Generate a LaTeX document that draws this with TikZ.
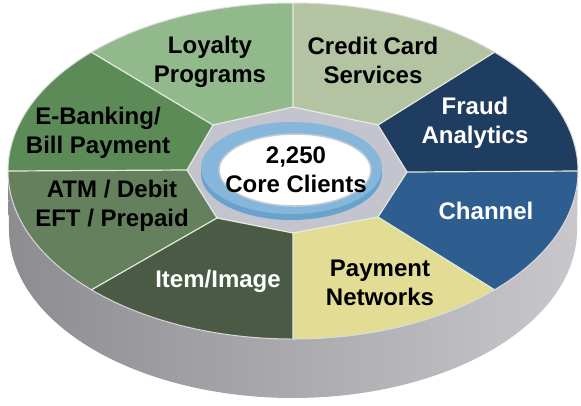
\documentclass[tikz,border=0pt]{standalone}
\usepackage{fontspec}
\setmainfont{Liberation Sans}
\definecolor{cCredit}{HTML}{B4C3A1}
\definecolor{cLoyal}{HTML}{92B98C}
\definecolor{cEbank}{HTML}{5D8B58}
\definecolor{cAtm}{HTML}{64805C}
\definecolor{cItem}{HTML}{4A5A45}
\definecolor{cPay}{HTML}{E2DC94}
\definecolor{cChan}{HTML}{2E5D8F}
\definecolor{cFraud}{HTML}{1F3D61}
\definecolor{sideL}{HTML}{8C8C91}
\definecolor{sideM}{HTML}{A9A9AE}
\definecolor{sideR}{HTML}{C8C8CC}
\definecolor{hubC}{HTML}{C4C4CE}
\definecolor{ringTop}{HTML}{86B6DA}
\definecolor{ringSide}{HTML}{6AA2CE}
\definecolor{ringEdge}{HTML}{C2CCD4}
\definecolor{divC}{HTML}{E4ECDC}
\begin{document}
\begin{tikzpicture}[x=1bp,y=-1bp,
  lbl/.style={font=\bfseries\fontsize{24bp}{29bp}\selectfont, align=center, inner sep=0pt},
  darktxt/.style={lbl,text=black},
  lighttxt/.style={lbl,text=white},
  divider/.style={draw=divC, line width=1.2bp},
  rim/.style={draw=white!70!gray, line width=1bp}]
\useasboundingbox (0,0) rectangle (581,405);
% outer points of top ellipse
\coordinate (oN)  at ({293+285*cos(90)},{171-168*sin(90)});
\coordinate (oNE) at ({293+285*cos(45)},{171-168*sin(45)});
\coordinate (oE)  at ({293+285*cos(0)},{171-168*sin(0)});
\coordinate (oSE) at ({293+285*cos(-45)},{171-168*sin(-45)});
\coordinate (oS)  at ({293+285*cos(-90)},{171-168*sin(-90)});
\coordinate (oSW) at ({293+285*cos(-135)},{171-168*sin(-135)});
\coordinate (oW)  at ({293+285*cos(180)},{171-168*sin(180)});
\coordinate (oNW) at ({293+285*cos(135)},{171-168*sin(135)});
% inner octagon
\coordinate (vN)  at (293,107);
\coordinate (vNE) at (378,125);
\coordinate (vE)  at (407,172);
\coordinate (vSE) at (378,217);
\coordinate (vS)  at (293,233);
\coordinate (vSW) at (217,218);
\coordinate (vW)  at (187,170);
\coordinate (vNW) at (213,125);
% side wall
\shade[left color=sideL, middle color=sideM, right color=sideR]
  (oW) -- plot[domain=180:360,samples=90] ({293+284*cos(\x)},{230-168*sin(\x)})
  -- (oE) -- plot[domain=360:180,samples=90] ({293+285*cos(\x)},{171-168*sin(\x)}) -- cycle;
% segments
\fill[cFraud]  (vE)  -- plot[domain=0:45,samples=40] ({293+285*cos(\x)},{171-168*sin(\x)}) -- (vNE) -- cycle;
\fill[cCredit] (vNE) -- plot[domain=45:90,samples=40] ({293+285*cos(\x)},{171-168*sin(\x)}) -- (vN) -- cycle;
\fill[cLoyal]  (vN)  -- plot[domain=90:135,samples=40] ({293+285*cos(\x)},{171-168*sin(\x)}) -- (vNW) -- cycle;
\fill[cEbank]  (vNW) -- plot[domain=135:180,samples=40] ({293+285*cos(\x)},{171-168*sin(\x)}) -- (vW) -- cycle;
\fill[cAtm]    (vW)  -- plot[domain=180:225,samples=40] ({293+285*cos(\x)},{171-168*sin(\x)}) -- (vSW) -- cycle;
\fill[cItem]   (vSW) -- plot[domain=225:270,samples=40] ({293+285*cos(\x)},{171-168*sin(\x)}) -- (vS) -- cycle;
\fill[cPay]    (vS)  -- plot[domain=270:315,samples=40] ({293+285*cos(\x)},{171-168*sin(\x)}) -- (vSE) -- cycle;
\fill[cChan]   (vSE) -- plot[domain=315:360,samples=40] ({293+285*cos(\x)},{171-168*sin(\x)}) -- (vE) -- cycle;
% rim
\draw[rim] (293,171) ellipse [x radius=285bp, y radius=168bp];
% hub
\fill[hubC] (vN) -- (vNE) -- (vE) -- (vSE) -- (vS) -- (vSW) -- (vW) -- (vNW) -- cycle;
% dividers
\draw[divider] (vN) -- (oN) (vNE) -- (oNE) (vE) -- (oE) (vSE) -- (oSE)
  (vS) -- (oS) (vSW) -- (oSW) (vW) -- (oW) (vNW) -- (oNW);
\draw[divider] (vN) -- (vNE) -- (vE) -- (vSE) -- (vS) -- (vSW) -- (vW) -- (vNW) -- cycle;
% ring
\fill[ringSide] (291.5,174) ellipse [x radius=90.5bp, y radius=46bp];
\fill[ringTop] (291.5,168) ellipse [x radius=90.5bp, y radius=46bp];
\fill[white] (295,170) ellipse [x radius=76bp, y radius=36bp];
\draw[ringEdge, line width=1.5bp] (295,170) ellipse [x radius=76bp, y radius=36bp];
% labels
\node[darktxt]  (loyal)  at (210,62)  {Loyalty\\Programs};
\node[darktxt]  (credit) at (373,60)  {Credit Card\\Services};
\node[lighttxt] (fraud)  at (475,123) {Fraud\\Analytics};
\node[lighttxt] (chan)   at (486,211) {Channel};
\node[darktxt]  (pay)    at (380,283) {Payment\\Networks};
\node[lighttxt] (item)   at (218,281) {Item/Image};
\node[darktxt]  (atm)    at (112,206) {ATM / Debit\\EFT / Prepaid};
\node[darktxt]  (ebank)  at (98,133)  {E-Banking/\\Bill Payment};
\node[darktxt]  (core)   at (296,170) {2,250\\Core Clients};
\end{tikzpicture}
\end{document}
